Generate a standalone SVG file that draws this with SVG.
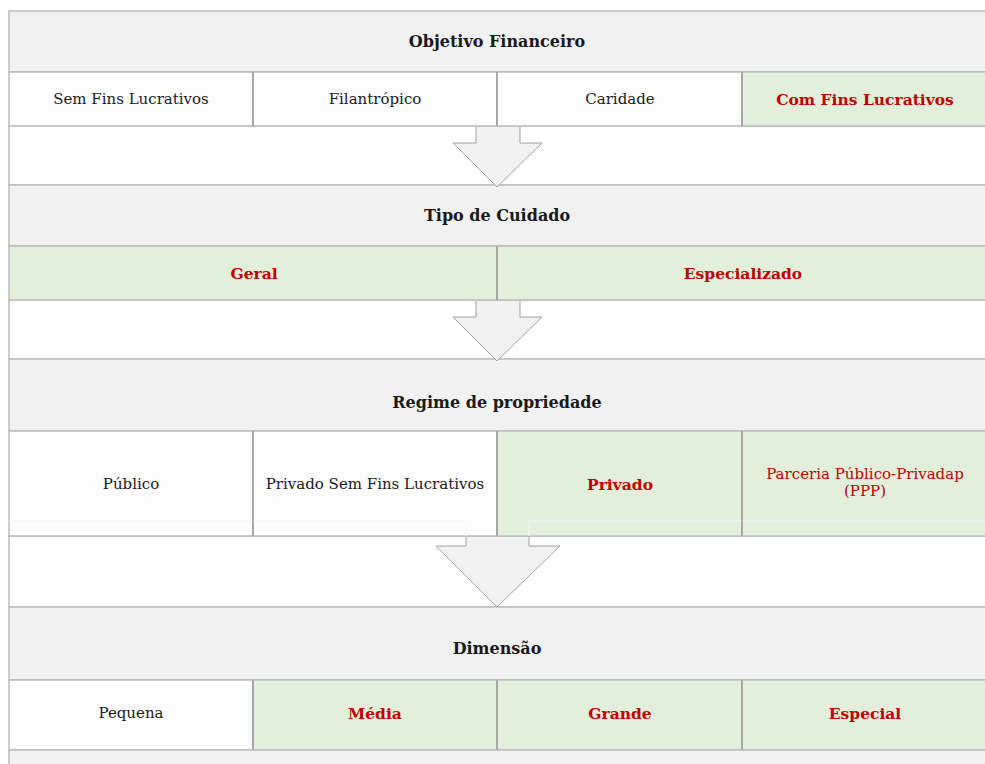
<svg xmlns="http://www.w3.org/2000/svg" width="985" height="764" viewBox="0 0 985 764">
<style>
.hdr{fill:#f1f1f1;stroke:#bdbdbd;stroke-width:1.5}
.cell{fill:#fcfcfc;stroke:#bdbdbd;stroke-width:1.5}
.hl{fill:#e2efda;stroke:#bdbdbd;stroke-width:1.5}
.gap{fill:#ffffff;stroke:#bdbdbd;stroke-width:1.5}
.vl{stroke:#8a8a8a;stroke-width:1}
.arrow{fill:#f1f1f1;stroke:#a0a0a0;stroke-width:1}
text{font-family:"DejaVu Serif","Liberation Serif",serif;font-size:15px;text-anchor:middle;dominant-baseline:central;fill:#1a1a1a}
.b{font-weight:bold;font-size:15.5px}
.h{font-size:16px}
.r{fill:#c00000}
</style>
<rect x="0" y="0" width="985" height="764" fill="#ffffff"/>
<g id="gaps">
<rect class="gap" x="9" y="126" width="990" height="59"/>
<rect class="gap" x="9" y="300" width="990" height="59"/>
<rect class="gap" x="9" y="536" width="990" height="71"/>
</g>
<g id="section1">
<g id="h1"><rect class="hdr" x="9" y="11" width="990" height="61"/><text class="b h" x="497" y="41">Objetivo Financeiro</text></g>
<g id="c1a"><rect class="cell" x="9" y="72" width="244" height="54"/><text x="131" y="99">Sem Fins Lucrativos</text></g>
<g id="c1b"><rect class="cell" x="253" y="72" width="244" height="54"/><text x="375" y="99">Filantrópico</text></g>
<g id="c1c"><rect class="cell" x="497" y="72" width="245" height="54"/><text x="620" y="99">Caridade</text></g>
<g id="c1d"><rect class="hl" x="742" y="72" width="257" height="54"/><text class="b r" x="865" y="99">Com Fins Lucrativos</text></g>
</g>
<g id="section2">
<g id="h2"><rect class="hdr" x="9" y="185" width="990" height="61"/><text class="b h" x="497" y="215">Tipo de Cuidado</text></g>
<g id="c2a"><rect class="hl" x="9" y="246" width="488" height="54"/><text class="b r" x="254" y="273">Geral</text></g>
<g id="c2b"><rect class="hl" x="497" y="246" width="502" height="54"/><text class="b r" x="743" y="273">Especializado</text></g>
</g>
<g id="section3">
<g id="h3"><rect class="hdr" x="9" y="359" width="990" height="72"/><text class="b h" x="497" y="402">Regime de propriedade</text></g>
<g id="c3a"><rect class="cell" x="9" y="431" width="244" height="105"/><text x="131" y="484">Público</text></g>
<g id="c3b"><rect class="cell" x="253" y="431" width="244" height="105"/><text x="375" y="484">Privado Sem Fins Lucrativos</text></g>
<g id="c3c"><rect class="hl" x="497" y="431" width="245" height="105"/><text class="b r" x="620" y="484">Privado</text></g>
<g id="c3d"><rect class="hl" x="742" y="431" width="257" height="105"/><text class="r" x="865" y="474">Parceria Público-Privadap</text><text class="r" x="865" y="491">(PPP)</text></g>
<path d="M9,521 H466 V536 M529,536 V521 H990" fill="none" stroke="#f4f4f4" stroke-width="1.2" opacity="0.9"/>
</g>
<g id="section4">
<g id="h4"><rect class="hdr" x="9" y="607" width="990" height="73"/><text class="b h" x="497" y="648">Dimensão</text></g>
<g id="c4a"><rect class="cell" x="9" y="680" width="244" height="70"/><text x="131" y="713">Pequena</text></g>
<g id="c4b"><rect class="hl" x="253" y="680" width="244" height="70"/><text class="b r" x="375" y="713">Média</text></g>
<g id="c4c"><rect class="hl" x="497" y="680" width="245" height="70"/><text class="b r" x="620" y="713">Grande</text></g>
<g id="c4d"><rect class="hl" x="742" y="680" width="257" height="70"/><text class="b r" x="865" y="713">Especial</text></g>
<rect class="hdr" x="9" y="750" width="990" height="30"/>
</g>
<g id="dividers">
<line class="vl" x1="253" y1="72" x2="253" y2="126"/><line class="vl" x1="497" y1="72" x2="497" y2="126"/><line class="vl" x1="742" y1="72" x2="742" y2="126"/>
<line class="vl" x1="497" y1="246" x2="497" y2="300"/>
<line class="vl" x1="253" y1="431" x2="253" y2="536"/><line class="vl" x1="497" y1="431" x2="497" y2="536"/><line class="vl" x1="742" y1="431" x2="742" y2="536"/>
<line class="vl" x1="253" y1="680" x2="253" y2="750"/><line class="vl" x1="497" y1="680" x2="497" y2="750"/><line class="vl" x1="742" y1="680" x2="742" y2="750"/>
</g>
<g id="connectors">
<path class="arrow" d="M476,127 V143 H453 L497,187 L542,143 H520 V127"/>
<path class="arrow" d="M476,301 V317 H453 L497,361 L542,317 H520 V301"/>
<path class="arrow" d="M466,537 V546 H436 L497,607 L560,546 H529 V537"/>
</g>
</svg>
